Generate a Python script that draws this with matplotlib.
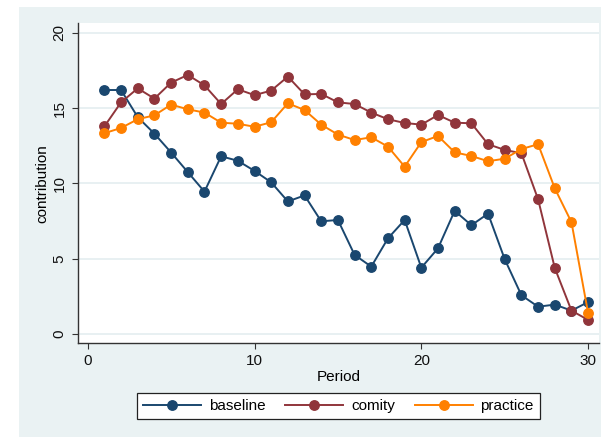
import matplotlib
matplotlib.use("Agg")
import matplotlib.pyplot as plt
from matplotlib.patches import Rectangle

plt.rcParams["font.family"] = ["Liberation Sans", "DejaVu Sans"]

period = list(range(1, 31))

baseline = [16.2, 16.2, 14.4, 13.3, 12.05, 10.75, 9.45, 11.8, 11.5, 10.83,
            10.07, 8.8, 9.2, 7.48, 7.57, 5.25, 4.47, 6.35, 7.57, 4.4,
            5.69, 8.18, 7.22, 7.99, 4.96, 2.57, 1.81, 1.95, 1.55, 2.12]
comity = [13.78, 15.38, 16.31, 15.63, 16.69, 17.2, 16.51, 15.27, 16.25, 15.86,
          16.16, 17.09, 15.91, 15.94, 15.38, 15.27, 14.7, 14.26, 14.01, 13.9,
          14.54, 14.03, 13.99, 12.6, 12.22, 12.0, 8.94, 4.38, 1.55, 0.93]
practice = [13.33, 13.68, 14.26, 14.52, 15.23, 14.92, 14.7, 14.03, 13.96, 13.76,
            14.06, 15.32, 14.87, 13.9, 13.24, 12.88, 13.06, 12.44, 11.11, 12.74,
            13.15, 12.06, 11.82, 11.47, 11.64, 12.28, 12.6, 9.67, 7.42, 1.37]

series = [("baseline", baseline, "#1A476F"),
          ("comity", comity, "#90353B"),
          ("practice", practice, "#FF8000")]

bg = "#EAF2F3"

fig = plt.figure(figsize=(6.01, 4.38), dpi=100)
fig.patch.set_facecolor("white")
fig.add_artist(Rectangle((19 / 601, 1 - 437 / 438), 582 / 601, 430 / 438,
                         transform=fig.transFigure, facecolor=bg,
                         edgecolor="none", zorder=-5))

ax = fig.add_axes([77.5 / 601, 1 - 343.3 / 438, (599 - 77.5) / 601, (343.3 - 23.3) / 438])
ax.set_facecolor("white")

for name, vals, col in series:
    ax.plot(period, vals, color=col, lw=1.4, marker="o", ms=6.8,
            label=name, zorder=3)

ax.set_xlim(-0.61, 30.65)
ax.set_ylim(-0.62, 20.63)
ax.set_xticks([0, 10, 20, 30])
ax.set_yticks([0, 5, 10, 15, 20])
ax.grid(axis="y", color="#E4EDF0", lw=1.2, zorder=1)
ax.set_axisbelow(True)

for s in ["top", "right"]:
    ax.spines[s].set_visible(False)
for s in ["left", "bottom"]:
    ax.spines[s].set_color("#333333")
    ax.spines[s].set_linewidth(1.0)

ax.tick_params(axis="both", length=4.5, width=0.8, color="#333333",
               labelsize=11, labelcolor="#111111")
ax.tick_params(axis="x", pad=3)
for lab in ax.get_yticklabels():
    lab.set_rotation(90)
    lab.set_va("center")

ax.set_xlabel("Period", fontsize=11, labelpad=2)
ax.set_ylabel("contribution", fontsize=11, labelpad=2)

leg = fig.legend(loc="center", bbox_to_anchor=(338.5 / 601, 1 - 406 / 438),
                 ncol=3, fontsize=11, frameon=True, fancybox=False,
                 framealpha=1, edgecolor="#222222", handlelength=3.8,
                 columnspacing=1.3, handletextpad=0.5, borderpad=0.4,
                 borderaxespad=0)
leg.get_frame().set_linewidth(0.9)

fig.savefig("out.png", dpi=100)
